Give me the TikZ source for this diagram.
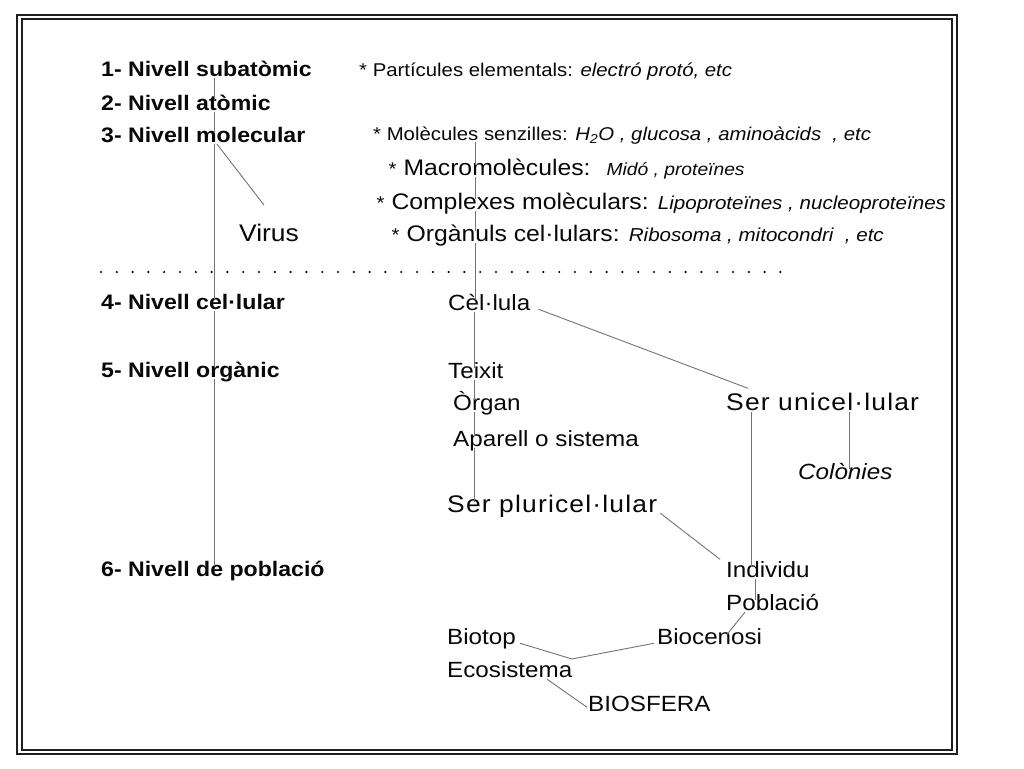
\documentclass[tikz,border=0pt]{standalone}
\usepackage{fontspec}
\setmainfont{Liberation Sans}[FakeStretch=1.1]
\usetikzlibrary{calc}
\definecolor{linegray}{gray}{0.45}
\definecolor{framecol}{gray}{0.12}
\definecolor{inkcol}{gray}{0.03}
\newcommand{\smf}{\fontsize{18.5}{22}\selectfont}
\newcommand{\itd}{\fontsize{18.7}{22}\selectfont\itshape}
\newcommand{\itc}{\fontsize{17.5}{21}\selectfont\itshape}
\begin{document}
\begin{tikzpicture}[x=1pt,y=-1pt,
  conn/.style={draw=linegray, line width=0.9pt},
  lab/.style={anchor=base west, inner sep=1pt, text height=0.85em, text depth=0.1em, text=inkcol},
  lvl/.style={lab, font=\fontsize{21}{25}\selectfont\bfseries},
  sml/.style={lab, font=\smf},
  bgl/.style={lab, font=\fontsize{22.5}{27}\selectfont},
  mid/.style={lab, font=\fontsize{22}{26}\selectfont},
  serl/.style={lab, font=\fontsize{24}{28}\selectfont\addfontfeature{LetterSpace=5}},
  virl/.style={lab, font=\fontsize{24}{28}\selectfont}]
\useasboundingbox (0,0) rectangle (1024,768);
\fill[white] (0,0) rectangle (1024,768);
% frame
\draw[framecol, line width=2.2pt] (17,15) rectangle (957,754);
\draw[framecol, line width=1.4pt] (22,19) rectangle (952,750);
% dotted separator
\draw[inkcol, line width=2.4pt, line cap=round, dash pattern=on 0pt off 15.8pt] (101,272) -- (783,272);
% levels
\node[lvl] (n1) at (100,76) {1- Nivell subatòmic};
\node[lvl] (n2) at (100,110) {2- Nivell atòmic};
\node[lvl] (n3) at (100,142) {3- Nivell molecular};
\node[lvl] (n4) at (100,309) {4- Nivell cel·lular};
\node[lvl] (n5) at (100,377) {5- Nivell orgànic};
\node[lvl] (n6) at (100,576) {6- Nivell de població};
\node[virl] (virus) at (238,241) {Virus};
% right column
\node[sml] (ra) at (358,76) {* Partícules elementals: \textit{electró protó, etc}};
\node[sml] (rb) at (372,140) {* Molècules senzilles: \textit{H\textsubscript{2}O , glucosa , aminoàcids~ , etc}};
\node[bgl] (rc) at (387.5,175) {{\smf *} Macromolècules:~ {\itc Midó , proteïnes}};
\node[bgl] (rd) at (375.5,209) {{\smf *} Complexes molèculars: {\itd Lipoproteïnes , nucleoproteïnes}};
\node[bgl] (re) at (390.5,241) {{\smf *} Orgànuls cel·lulars: {\itd Ribosoma , mitocondri~ , etc}};
% middle column
\node[mid] (cel) at (447,310) {Cèl·lula};
\node[mid] (tei) at (447,378) {Teixit};
\node[mid] (org) at (452,410) {Òrgan};
\node[mid] (apa) at (452,446) {Aparell o sistema};
\node[serl] (sp) at (446,512) {Ser pluricel·lular};
\node[serl] (su) at (725,410) {Ser unicel·lular};
\node[mid, font=\fontsize{22}{26}\selectfont\itshape] (col) at (797,479) {Colònies};
\node[mid] (ind) at (725,577) {Individu};
\node[mid] (pob) at (725,610) {Població};
\node[mid] (bio) at (656,644) {Biocenosi};
\node[mid] (bt) at (446,644) {Biotop};
\node[mid] (eco) at (446,677) {Ecosistema};
\node[mid] (bsf) at (587,711) {BIOSFERA};
% guide coordinates
\coordinate (vl) at (214,0);
\coordinate (vd) at (217,0);
\coordinate (vr) at (475,0);
\coordinate (vm) at (474,0);
\coordinate (vu) at (751.5,0);
\coordinate (vc) at (849,0);
\coordinate (vp) at (755,0);
\coordinate (pb1) at (745,0);
\coordinate (pb2) at (727,0);
\coordinate (vtip) at (264,205);
\coordinate (jct) at (572,659);
% connectors
\draw[conn] (n1.south -| vl) -- (n2.north -| vl);
\draw[conn] (n2.south -| vl) -- (n3.north -| vl);
\draw[conn] (n3.south -| vl) -- (n4.north -| vl);
\draw[conn] (n4.south -| vl) -- (n5.north -| vl);
\draw[conn] (n5.south -| vl) -- (n6.north -| vl);
\draw[conn] (n3.south -| vd) -- (vtip);
\draw[conn] (rb.south -| vr) -- (rc.north -| vr);
\draw[conn] (rc.south -| vr) -- (rd.north -| vr);
\draw[conn] (rd.south -| vr) -- (re.north -| vr);
\draw[conn] (re.south -| vr) -- (cel.north -| vr);
\draw[conn] (cel.south -| vm) -- (tei.north -| vm);
\draw[conn] (tei.south -| vm) -- (org.north -| vm);
\draw[conn] (org.south -| vm) -- (apa.north -| vm);
\draw[conn] (apa.south -| vm) -- (sp.north -| vm);
\draw[conn] ($(cel.east)+(7,3)$) -- ($(su.north west)+(23,-12)$);
\draw[conn] (su.south -| vu) -- (ind.north -| vu);
\draw[conn] (su.south -| vc) -- (col.north -| vc);
\draw[conn] ($(sp.east)+(2,5)$) -- ($(ind.north west)+(-5,-8)$);
\draw[conn] (ind.south -| vp) -- (pob.north -| vp);
\draw[conn] (pob.south -| pb1) -- (bio.north -| pb2);
\draw[conn] ($(bio.west)+(-2,3)$) -- (jct);
\draw[conn] ($(bt.east)+(3,3)$) -- (jct);
\draw[conn] ($(eco.south west)+(101,0)$) -- (bsf.west);
\end{tikzpicture}
\end{document}
